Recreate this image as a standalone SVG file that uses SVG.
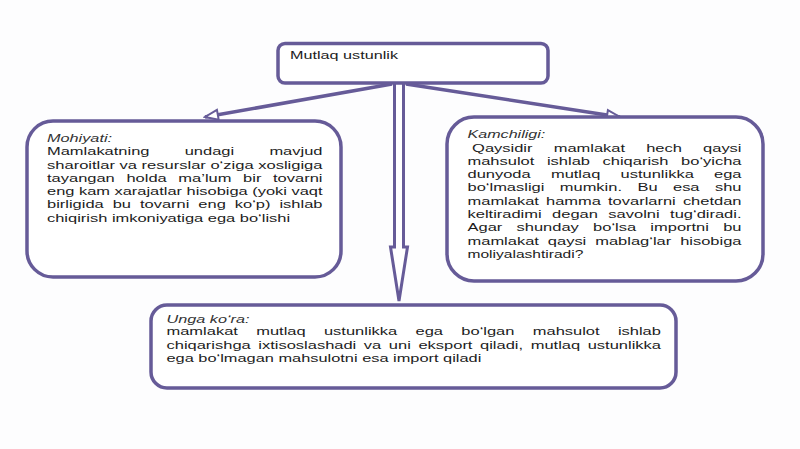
<svg xmlns="http://www.w3.org/2000/svg" width="800" height="449" viewBox="0 0 800 449">
  <defs>
    <style>
      .box { fill: #ffffff; stroke: #665b98; stroke-width: 3.5; }
      .conn { fill: none; stroke: #665b98; stroke-width: 3.5; }
      .t { font-family: "Liberation Sans", Arial, sans-serif; font-size: 58px; fill: #1c1c1c; }
      .h { font-style: italic; fill: #333333; }
    </style>
    <marker id="arr" markerUnits="userSpaceOnUse" viewBox="-2 -7 17 14" markerWidth="17" markerHeight="14" refX="13" refY="0" orient="auto">
      <path d="M0,-5 L13,0 L0,5 Z" fill="#ffffff" stroke="#665b98" stroke-width="2" stroke-linejoin="miter"/>
    </marker>
  </defs>
  <rect x="0" y="0" width="800" height="449" fill="#fdfdfe"/>

  <g id="connectors">
    <line class="conn" x1="392" y1="84" x2="205" y2="117" marker-end="url(#arr)"/>
    <line class="conn" x1="406" y1="84" x2="620" y2="117" marker-end="url(#arr)"/>
    <path d="M394.5,84 L394.5,247 L390.5,247 L399,301 L407.5,247 L403.5,247 L403.5,84" fill="#ffffff" stroke="#665b98" stroke-width="3" stroke-linejoin="miter"/>
  </g>

  <g id="node-top">
    <rect class="box" x="278" y="43.5" width="270" height="39.5" rx="7"/>
    <g transform="translate(290,0) scale(0.28,0.2)">
      <text class="t" style="font-size:54px" x="0" y="297.5" textLength="385.7" lengthAdjust="spacingAndGlyphs">Mutlaq ustunlik</text>
    </g>
  </g>

  <g id="node-mohiyati">
    <rect class="box" x="27" y="121" width="314" height="156" rx="26"/>
    <g transform="translate(47,0) scale(0.284,0.2)">
      <text class="t h" x="0" y="710" textLength="229" lengthAdjust="spacingAndGlyphs">Mohiyati:</text>
      <text class="t" x="0" y="776.5" word-spacing="108" textLength="970" lengthAdjust="spacingAndGlyphs">Mamlakatning undagi mavjud</text>
      <text class="t" x="0" y="843" textLength="970" lengthAdjust="spacingAndGlyphs">sharoitlar va resurslar o‘ziga xosligiga</text>
      <text class="t" x="0" y="909.5" word-spacing="24.9" textLength="970" lengthAdjust="spacingAndGlyphs">tayangan holda ma’lum bir tovarni</text>
      <text class="t" x="0" y="976" textLength="970" lengthAdjust="spacingAndGlyphs">eng kam xarajatlar hisobiga (yoki vaqt</text>
      <text class="t" x="0" y="1042.5" word-spacing="15.45" textLength="970" lengthAdjust="spacingAndGlyphs">birligida bu tovarni eng ko‘p) ishlab</text>
      <text class="t" x="0" y="1109" textLength="856" lengthAdjust="spacingAndGlyphs">chiqirish imkoniyatiga ega bo‘lishi</text>
    </g>
  </g>

  <g id="node-kamchiligi">
    <rect class="box" x="447" y="117" width="316" height="164" rx="27"/>
    <g transform="translate(467.5,0) scale(0.284,0.2)">
      <text class="t h" x="0" y="691.5" textLength="274" lengthAdjust="spacingAndGlyphs">Kamchiligi:</text>
      <text class="t" x="16.25" y="758" word-spacing="58.35" textLength="948.6" lengthAdjust="spacingAndGlyphs">Qaysidir mamlakat hech qaysi</text>
      <text class="t" x="0" y="824.5" word-spacing="28.3" textLength="964.8" lengthAdjust="spacingAndGlyphs">mahsulot ishlab chiqarish bo‘yicha</text>
      <text class="t" x="0" y="891" word-spacing="55.15" textLength="964.8" lengthAdjust="spacingAndGlyphs">dunyoda mutlaq ustunlikka ega</text>
      <text class="t" x="0" y="957.5" word-spacing="38.2" textLength="964.8" lengthAdjust="spacingAndGlyphs">bo‘lmasligi mumkin. Bu esa shu</text>
      <text class="t" x="0" y="1024" word-spacing="8.95" textLength="964.8" lengthAdjust="spacingAndGlyphs">mamlakat hamma tovarlarni chetdan</text>
      <text class="t" x="0" y="1090.5" word-spacing="20.75" textLength="964.8" lengthAdjust="spacingAndGlyphs">keltiradimi degan savolni tug‘diradi.</text>
      <text class="t" x="0" y="1157" word-spacing="34.1" textLength="964.8" lengthAdjust="spacingAndGlyphs">Agar shunday bo‘lsa importni bu</text>
      <text class="t" x="0" y="1223.5" word-spacing="15.4" textLength="964.8" lengthAdjust="spacingAndGlyphs">mamlakat qaysi mablag‘lar hisobiga</text>
      <text class="t" x="0" y="1290" textLength="408" lengthAdjust="spacingAndGlyphs">moliyalashtiradi?</text>
    </g>
  </g>

  <g id="node-unga-kora">
    <rect class="box" x="151" y="305" width="525" height="83" rx="16"/>
    <g transform="translate(166.5,0) scale(0.284,0.2)">
      <text class="t h" x="0" y="1613.5" textLength="292" lengthAdjust="spacingAndGlyphs">Unga ko‘ra:</text>
      <text class="t" x="0" y="1677.5" word-spacing="48.45" textLength="1741" lengthAdjust="spacingAndGlyphs">mamlakat mutlaq ustunlikka ega bo‘lgan mahsulot ishlab</text>
      <text class="t" x="0" y="1744" word-spacing="10.65" textLength="1741" lengthAdjust="spacingAndGlyphs">chiqarishga ixtisoslashadi va uni eksport qiladi, mutlaq ustunlikka</text>
      <text class="t" x="0" y="1810.5" textLength="1108.5" lengthAdjust="spacingAndGlyphs">ega bo‘lmagan mahsulotni esa import qiladi</text>
    </g>
  </g>
</svg>
